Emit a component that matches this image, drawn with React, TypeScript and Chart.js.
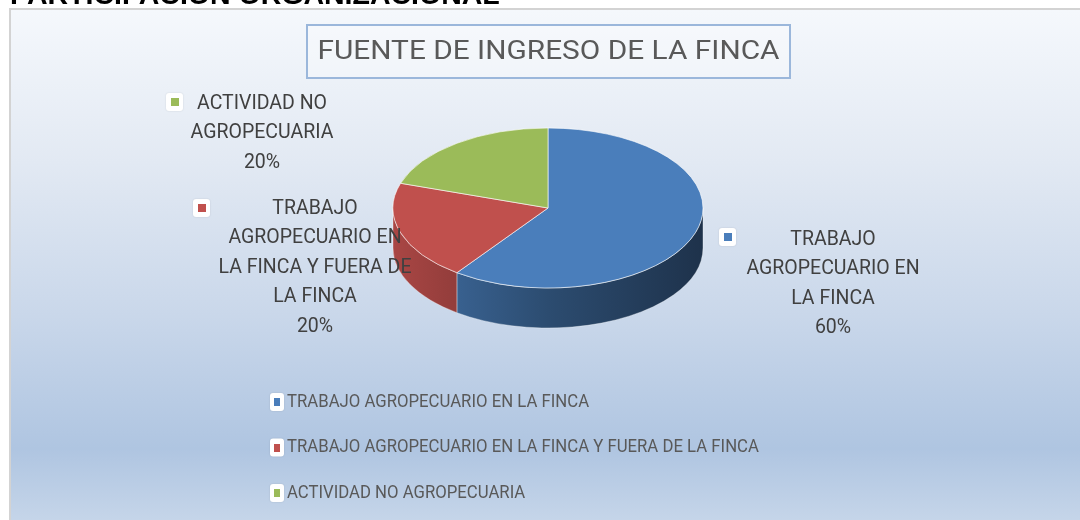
import React, { useEffect, useRef } from "react";
import { Chart, registerables } from "chart.js";

Chart.register(...registerables);

// ---- data ----
const pageHeading = "PARTICIPACIÓN ORGANIZACIONAL";
const chartTitle = "FUENTE DE INGRESO DE LA FINCA";
const categories = [
  "TRABAJO AGROPECUARIO EN LA FINCA",
  "TRABAJO AGROPECUARIO EN LA FINCA Y FUERA DE LA FINCA",
  "ACTIVIDAD NO AGROPECUARIA",
];
const values = [60, 20, 20];
const colors = ["#4a7ebb", "#c0504d", "#9bbb59"];

// ---- layout (canvas coordinates) ----
const W = 1069;
const H = 510;
const CX = 537;
const CY = 198;
const R = 155;
const TILT = 80 / 155;
const DEPTH = 40;
const FONT = 'Roboto, "Liberation Sans", sans-serif';
// data label anchors: [text centre x, first line y, marker left, marker top]
const labelAnchors = [
  [822, 230, 708, 218],
  [304, 199, 182, 189],
  [251, 94, 155, 83],
];
const LABEL_LINE = 29.5;
const LABEL_WRAP = 195;
const TITLE_WIDTH = 462;
const LEGEND_SCALE_X = 0.93;

function hexToRgb(h: string) {
  const n = parseInt(h.slice(1), 16);
  return [(n >> 16) & 255, (n >> 8) & 255, n & 255];
}
function shade(h: string, f: number) {
  const [r, g, b] = hexToRgb(h);
  return `rgb(${Math.round(r * f)},${Math.round(g * f)},${Math.round(b * f)})`;
}
function wrap(ctx: CanvasRenderingContext2D, text: string, maxW: number) {
  const words = text.split(" ");
  const lines: string[] = [];
  let cur = "";
  for (const w of words) {
    const t = cur ? cur + " " + w : w;
    if (cur && ctx.measureText(t).width > maxW) {
      lines.push(cur);
      cur = w;
    } else cur = t;
  }
  if (cur) lines.push(cur);
  return lines;
}
function scaledText(ctx: CanvasRenderingContext2D, text: string, x: number, y: number, sx: number) {
  ctx.save();
  ctx.translate(x, y);
  ctx.scale(sx, 1);
  ctx.fillText(text, 0, 0);
  ctx.restore();
}
function roundRect(ctx: CanvasRenderingContext2D, x: number, y: number, w: number, h: number, r: number) {
  ctx.beginPath();
  ctx.moveTo(x + r, y);
  ctx.lineTo(x + w - r, y);
  ctx.quadraticCurveTo(x + w, y, x + w, y + r);
  ctx.lineTo(x + w, y + h - r);
  ctx.quadraticCurveTo(x + w, y + h, x + w - r, y + h);
  ctx.lineTo(x + r, y + h);
  ctx.quadraticCurveTo(x, y + h, x, y + h - r);
  ctx.lineTo(x, y + r);
  ctx.quadraticCurveTo(x, y, x + r, y);
  ctx.closePath();
}
function marker(ctx: CanvasRenderingContext2D, x: number, y: number, w: number, h: number, color: string) {
  ctx.save();
  ctx.shadowColor = "rgba(0,0,0,0.12)";
  ctx.shadowBlur = 2;
  ctx.fillStyle = "#ffffff";
  roundRect(ctx, x, y, w, h, 3);
  ctx.fill();
  ctx.restore();
  const iw = Math.round(w * 0.45);
  const ih = Math.round(h * 0.47);
  ctx.fillStyle = color;
  ctx.fillRect(Math.round(x + (w - iw) / 2), Math.round(y + (h - ih) / 2), iw, ih);
}

const backgroundPlugin = {
  id: "bg",
  beforeDraw(chart: any) {
    const ctx = chart.ctx as CanvasRenderingContext2D;
    const g = ctx.createLinearGradient(0, 0, 0, H);
    g.addColorStop(0, "#f5f8fc");
    g.addColorStop(0.3, "#e2e9f3");
    g.addColorStop(0.6, "#c9d7ea");
    g.addColorStop(0.86, "#afc5e1");
    g.addColorStop(1, "#c5d5e9");
    ctx.save();
    ctx.fillStyle = g;
    ctx.fillRect(0, 0, W, H);
    ctx.restore();
  },
};

const pie3dPlugin = {
  id: "pie3d",
  beforeDatasetsDraw(chart: any) {
    const ctx = chart.ctx as CanvasRenderingContext2D;
    const meta = chart.getDatasetMeta(0);
    meta.data.forEach((el: any, i: number) => {
      const p = el.getProps(["x", "y", "startAngle", "endAngle", "outerRadius"], true);
      const ry = p.outerRadius * TILT;
      for (const k of [-2 * Math.PI, 0, 2 * Math.PI]) {
        const a = Math.max(p.startAngle, k);
        const b = Math.min(p.endAngle, k + Math.PI);
        if (b <= a) continue;
        ctx.save();
        ctx.beginPath();
        ctx.ellipse(p.x, p.y, p.outerRadius, ry, 0, a - k, b - k);
        ctx.ellipse(p.x, p.y + DEPTH, p.outerRadius, ry, 0, b - k, a - k, true);
        ctx.closePath();
        const g = ctx.createLinearGradient(p.x - p.outerRadius, 0, p.x + p.outerRadius, 0);
        const c = colors[i];
        g.addColorStop(0, shade(c, 0.88));
        g.addColorStop(0.5, shade(c, 0.6));
        g.addColorStop(1, shade(c, 0.4));
        ctx.fillStyle = g;
        ctx.fill();
        ctx.strokeStyle = "rgba(255,255,255,0.35)";
        ctx.lineWidth = 1;
        ctx.stroke();
        ctx.restore();
      }
    });
    // squash the top face into an ellipse
    ctx.save();
    ctx.translate(0, CY);
    ctx.scale(1, TILT);
    ctx.translate(0, -CY);
  },
  afterDatasetsDraw(chart: any) {
    chart.ctx.restore();
  },
  afterDraw(chart: any) {
    const ctx = chart.ctx as CanvasRenderingContext2D;
    ctx.save();
    // title box
    ctx.fillStyle = "rgba(255,255,255,0.25)";
    ctx.fillRect(296, 15, 483, 53);
    ctx.strokeStyle = "#9bb7db";
    ctx.lineWidth = 2;
    ctx.strokeRect(296, 15, 483, 53);
    ctx.fillStyle = "#595959";
    ctx.font = `25px ${FONT}`;
    ctx.textAlign = "center";
    ctx.textBaseline = "middle";
    const tw = ctx.measureText(chartTitle).width;
    scaledText(ctx, chartTitle, 537.5, 43, TITLE_WIDTH / tw);

    // data labels
    const total = values.reduce((s, v) => s + v, 0);
    ctx.font = `19.5px ${FONT}`;
    categories.forEach((cat, i) => {
      const [tx, ty, mx, my] = labelAnchors[i];
      marker(ctx, mx, my, 17, 18, colors[i]);
      const lines = wrap(ctx, cat, LABEL_WRAP);
      lines.push(Math.round((values[i] / total) * 100) + "%");
      ctx.fillStyle = "#404040";
      ctx.textAlign = "center";
      ctx.textBaseline = "middle";
      lines.forEach((ln, j) => ctx.fillText(ln, tx, ty + j * LABEL_LINE));
    });

    // legend
    ctx.font = `18px ${FONT}`;
    ctx.textAlign = "left";
    ctx.textBaseline = "middle";
    categories.forEach((cat, i) => {
      const y = 392 + i * 45.5;
      marker(ctx, 259, y - 9, 14, 18, colors[i]);
      ctx.fillStyle = "#595959";
      scaledText(ctx, cat, 276, y, LEGEND_SCALE_X);
    });
    ctx.restore();
  },
};

export default function App() {
  const ref = useRef<HTMLCanvasElement>(null);
  useEffect(() => {
    document.body.style.overflow = "hidden";
    const chart = new Chart(ref.current as HTMLCanvasElement, {
      type: "pie",
      data: {
        labels: categories,
        datasets: [
          {
            data: values,
            backgroundColor: colors,
            borderColor: "rgba(255,255,255,0.8)",
            borderWidth: 1,
            hoverOffset: 0,
            radius: R,
          } as any,
        ],
      },
      options: {
        animation: false,
        responsive: false,
        events: [],
        layout: {
          padding: { left: CX - R, right: W - CX - R, top: CY - R, bottom: H - CY - R },
        },
        plugins: {
          legend: { display: false },
          title: { display: false },
          tooltip: { enabled: false },
        },
      },
      plugins: [backgroundPlugin, pie3dPlugin],
    });
    return () => chart.destroy();
  }, []);
  return (
    <div>
      <div
        style={{
          position: "fixed",
          left: 10,
          top: -20,
          font: 'bold 28.5px "Liberation Sans", Arial, sans-serif',
          lineHeight: "28.5px",
          color: "#000",
          whiteSpace: "nowrap",
        }}
      >
        {pageHeading}
      </div>
      <div
        style={{
          position: "fixed",
          left: 9,
          top: 8,
          width: 1071,
          height: 512,
          borderLeft: "2px solid #d3d3d3",
          borderTop: "2px solid #d3d3d3",
          boxSizing: "border-box",
        }}
      >
        <canvas ref={ref} width={W} height={H} style={{ display: "block" }} />
      </div>
    </div>
  );
}
